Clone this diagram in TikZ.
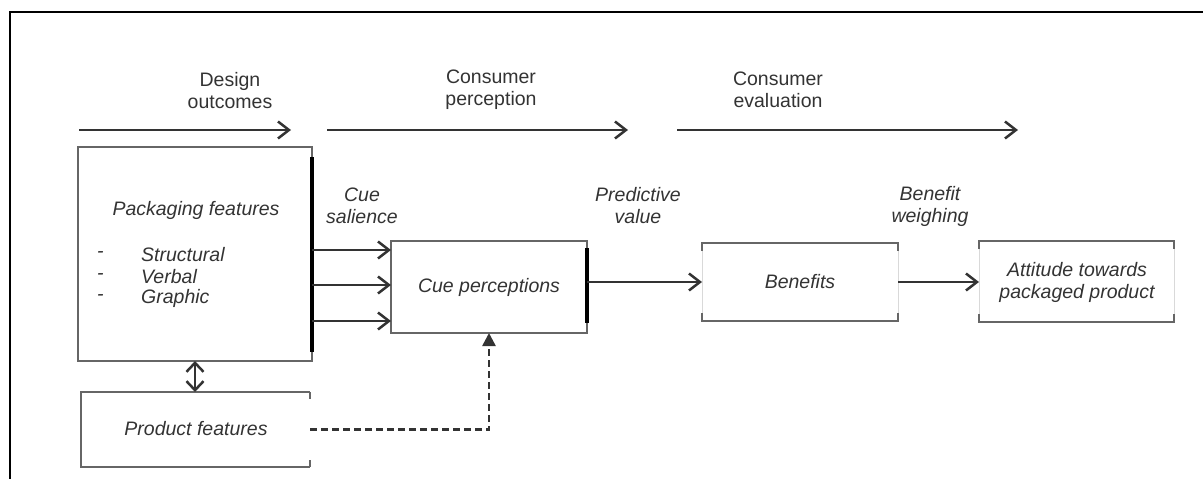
\documentclass[tikz,border=0pt]{standalone}
\usepackage{fontspec}
\setmainfont{Liberation Sans}
\usetikzlibrary{arrows.meta,calc}
\begin{document}
\begin{tikzpicture}[x=1pt,y=-1pt,
  lbl/.style={font=\fontsize{19.5}{22}\selectfont\itshape, text=black!80, align=center, inner sep=0pt},
  head/.style={font=\fontsize{19.5}{22}\selectfont, text=black!80, align=center, inner sep=0pt},
  boxnode/.style={inner sep=0pt, outer sep=0pt},
  boxline/.style={draw=black!60, line width=2pt},
  faint/.style={draw=black!15, line width=1pt},
  heavy/.style={draw=black, line width=3.2pt},
  arr/.style={draw=black!80, line width=2.5pt, -{Straight Barb[length=11pt,width=17pt,line width=2.5pt]}},
  darr/.style={draw=black!80, line width=2.5pt, {Straight Barb[length=9pt,width=17pt,line width=2.5pt]}-{Straight Barb[length=9pt,width=17pt,line width=2.5pt]}},
  dasharr/.style={draw=black!80, line width=2.5pt, dash pattern=on 7pt off 4pt, -{Triangle[length=13pt,width=13pt]}}
]
\useasboundingbox (0,0) rectangle (1203,479);
% frame
\draw[line width=2.8pt] (10,479) -- (10,12) -- (1203,12);

% stage arrows
\coordinate (s1a) at (79,130);  \coordinate (s1b) at (291,130);
\coordinate (s2a) at (327,130); \coordinate (s2b) at (628,130);
\coordinate (s3a) at (677,130); \coordinate (s3b) at (1018,130);
\draw[arr] (s1a) -- (s1b);
\draw[arr] (s2a) -- (s2b);
\draw[arr] (s3a) -- (s3b);
\node[head] (h1) at (230,91) {Design\\outcomes};
\node[head] (h2) at (491,90) {Consumer\\perception};
\node[head] (h3) at (778,90) {Consumer\\evaluation};

% boxes
\node[boxnode, minimum width=234pt, minimum height=214pt] (pack) at (195,254) {};
\node[boxnode, minimum width=229pt, minimum height=75pt] (prod) at (195.5,429.5) {};
\node[boxnode, minimum width=196pt, minimum height=92pt] (cue) at (489,287) {};
\node[boxnode, minimum width=196pt, minimum height=78pt] (ben) at (800,282) {};
\node[boxnode, minimum width=195pt, minimum height=81pt] (att) at (1076.5,281.5) {};

% packaging box
\draw[boxline] (pack.north west) rectangle (pack.south east);
\draw[heavy] ($(pack.north east)+(0,10)$) -- ($(pack.south east)+(0,-9)$);
\node[lbl] (packt) at (196,210) {Packaging features};
\node[lbl, anchor=west] (d1) at (97,255) {-};
\node[lbl, anchor=west] (d2) at (97,277) {-};
\node[lbl, anchor=west] (d3) at (97,298) {-};
\node[lbl, anchor=west] (l1) at (141,255) {Structural};
\node[lbl, anchor=west] (l2) at (141,277) {Verbal};
\node[lbl, anchor=west] (l3) at (141,298) {Graphic};

% product box
\draw[boxline] (prod.north east) -- (prod.north west) -- (prod.south west) -- (prod.south east);
\draw[boxline] (prod.north east) -- ++(0,7);
\draw[boxline] (prod.south east) -- ++(0,-7);
\node[lbl] (prodt) at (196,429) {Product features};

% cue perceptions box
\draw[boxline] (cue.north west) rectangle (cue.south east);
\draw[heavy] ($(cue.north east)+(0,7)$) -- ($(cue.south east)+(0,-10)$);
\node[lbl] (cuet) at (cue.center) {Cue perceptions};

% benefits box
\draw[faint] (ben.north west) -- (ben.south west);
\draw[faint] (ben.north east) -- (ben.south east);
\draw[boxline] ($(ben.north west)+(0,8)$) -- (ben.north west) -- (ben.north east) -- ++(0,8);
\draw[boxline] ($(ben.south west)+(0,-8)$) -- (ben.south west) -- (ben.south east) -- ++(0,-8);
\node[lbl] (bent) at (ben.center) {Benefits};

% attitude box
\draw[faint] (att.north west) -- (att.south west);
\draw[faint] (att.north east) -- (att.south east);
\draw[boxline] ($(att.north west)+(0,8)$) -- (att.north west) -- (att.north east) -- ++(0,8);
\draw[boxline] ($(att.south west)+(0,-8)$) -- (att.south west) -- (att.south east) -- ++(0,-8);
\node[lbl] (attt) at (1077,282) {Attitude towards\\packaged product};

% cue salience arrows
\coordinate (r1) at (0,250); \coordinate (r2) at (0,285); \coordinate (r3) at (0,321);
\draw[arr] (pack.east |- r1) -- (cue.west |- r1);
\draw[arr] (pack.east |- r2) -- (cue.west |- r2);
\draw[arr] (pack.east |- r3) -- (cue.west |- r3);
\node[lbl] (cs) at (362,206) {Cue\\salience};

% predictive value
\draw[arr] (cue.east |- ben.west) -- (ben.west);
\node[lbl] (pv) at (638,206) {Predictive\\value};

% benefit weighing
\draw[arr] (ben.east) -- (att.west |- ben.east);
\node[lbl] (bw) at (930,206) {Benefit\\weighing};

% double arrow
\draw[darr] (pack.south) -- (pack.south |- prod.north);

% dashed
\draw[dasharr] (prod.east) -| (cue.south);
\end{tikzpicture}
\end{document}
